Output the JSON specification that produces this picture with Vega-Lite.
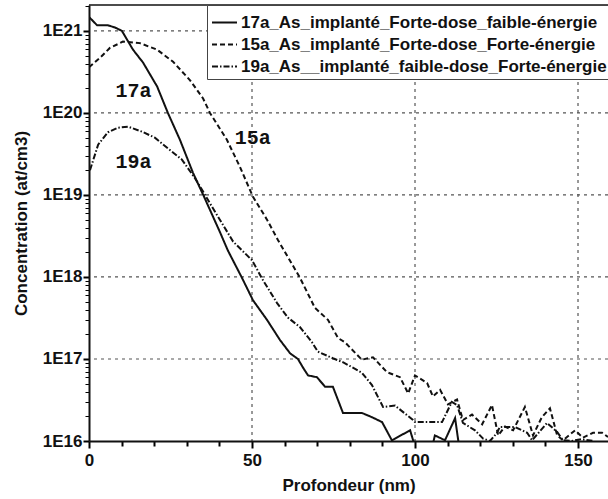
{
  "$schema": "https://vega.github.io/schema/vega-lite/v6.json",
  "width": 519,
  "height": 436,
  "autosize": {"type": "none"},
  "padding": {"left": 89, "top": 5, "right": 0, "bottom": 58},
  "config": {"view": {"stroke": null}},
  "resolve": {"axis": {"x": "independent", "y": "independent"}},
  "datasets": {
    "profiles": [
      {"s": "17a_As_implanté_Forte-dose_faible-énergie", "x": 0, "y": 1.48e21},
      {"s": "17a_As_implanté_Forte-dose_faible-énergie", "x": 2.5, "y": 1.17e21},
      {"s": "17a_As_implanté_Forte-dose_faible-énergie", "x": 5.8, "y": 1.17e21},
      {"s": "17a_As_implanté_Forte-dose_faible-énergie", "x": 8, "y": 1.1e21},
      {"s": "17a_As_implanté_Forte-dose_faible-énergie", "x": 10.1, "y": 1.0e21},
      {"s": "17a_As_implanté_Forte-dose_faible-énergie", "x": 13.5, "y": 5.9e20},
      {"s": "17a_As_implanté_Forte-dose_faible-énergie", "x": 16.6, "y": 4.1e20},
      {"s": "17a_As_implanté_Forte-dose_faible-énergie", "x": 20.9, "y": 2.1e20},
      {"s": "17a_As_implanté_Forte-dose_faible-énergie", "x": 24.2, "y": 1.0e20},
      {"s": "17a_As_implanté_Forte-dose_faible-énergie", "x": 27.9, "y": 4.7e19},
      {"s": "17a_As_implanté_Forte-dose_faible-énergie", "x": 31.9, "y": 1.86e19},
      {"s": "17a_As_implanté_Forte-dose_faible-énergie", "x": 35.3, "y": 9.5e18},
      {"s": "17a_As_implanté_Forte-dose_faible-énergie", "x": 40.2, "y": 3.5e18},
      {"s": "17a_As_implanté_Forte-dose_faible-énergie", "x": 42.6, "y": 2.1e18},
      {"s": "17a_As_implanté_Forte-dose_faible-énergie", "x": 46.9, "y": 9.8e17},
      {"s": "17a_As_implanté_Forte-dose_faible-énergie", "x": 50.3, "y": 5.2e17},
      {"s": "17a_As_implanté_Forte-dose_faible-énergie", "x": 54.6, "y": 3.0e17},
      {"s": "17a_As_implanté_Forte-dose_faible-énergie", "x": 58.6, "y": 1.7e17},
      {"s": "17a_As_implanté_Forte-dose_faible-énergie", "x": 61.7, "y": 1.17e17},
      {"s": "17a_As_implanté_Forte-dose_faible-énergie", "x": 64.1, "y": 1.0e17},
      {"s": "17a_As_implanté_Forte-dose_faible-énergie", "x": 65.6, "y": 7.9e16},
      {"s": "17a_As_implanté_Forte-dose_faible-énergie", "x": 67.2, "y": 6.3e16},
      {"s": "17a_As_implanté_Forte-dose_faible-énergie", "x": 69.9, "y": 6.0e16},
      {"s": "17a_As_implanté_Forte-dose_faible-énergie", "x": 72.4, "y": 4.6e16},
      {"s": "17a_As_implanté_Forte-dose_faible-énergie", "x": 74.8, "y": 4.6e16},
      {"s": "17a_As_implanté_Forte-dose_faible-énergie", "x": 77.9, "y": 2.2e16},
      {"s": "17a_As_implanté_Forte-dose_faible-énergie", "x": 80.1, "y": 2.2e16},
      {"s": "17a_As_implanté_Forte-dose_faible-énergie", "x": 83.7, "y": 2.2e16},
      {"s": "17a_As_implanté_Forte-dose_faible-énergie", "x": 86.8, "y": 1.95e16},
      {"s": "17a_As_implanté_Forte-dose_faible-énergie", "x": 89.9, "y": 1.7e16},
      {"s": "17a_As_implanté_Forte-dose_faible-énergie", "x": 92.9, "y": 1.02e16},
      {"s": "17a_As_implanté_Forte-dose_faible-énergie", "x": 98.5, "y": 1.35e16},
      {"s": "17a_As_implanté_Forte-dose_faible-énergie", "x": 101, "y": 6.3e15},
      {"s": "17a_As_implanté_Forte-dose_faible-énergie", "x": 104.5, "y": 6.3e15},
      {"s": "17a_As_implanté_Forte-dose_faible-énergie", "x": 106.1, "y": 1.17e16},
      {"s": "17a_As_implanté_Forte-dose_faible-énergie", "x": 109.2, "y": 1.02e16},
      {"s": "17a_As_implanté_Forte-dose_faible-énergie", "x": 112.3, "y": 1.9e16},
      {"s": "17a_As_implanté_Forte-dose_faible-énergie", "x": 114, "y": 6.3e15},
      {"s": "15a_As_implanté_Forte-dose_Forte-énergie", "x": 0, "y": 3.6e20},
      {"s": "15a_As_implanté_Forte-dose_Forte-énergie", "x": 3.4, "y": 4.7e20},
      {"s": "15a_As_implanté_Forte-dose_Forte-énergie", "x": 6.4, "y": 6.2e20},
      {"s": "15a_As_implanté_Forte-dose_Forte-énergie", "x": 10.4, "y": 7.4e20},
      {"s": "15a_As_implanté_Forte-dose_Forte-énergie", "x": 15.6, "y": 7.1e20},
      {"s": "15a_As_implanté_Forte-dose_Forte-énergie", "x": 20.9, "y": 5.9e20},
      {"s": "15a_As_implanté_Forte-dose_Forte-énergie", "x": 25.8, "y": 4.2e20},
      {"s": "15a_As_implanté_Forte-dose_Forte-énergie", "x": 31, "y": 2.5e20},
      {"s": "15a_As_implanté_Forte-dose_Forte-énergie", "x": 35, "y": 1.5e20},
      {"s": "15a_As_implanté_Forte-dose_Forte-énergie", "x": 37.1, "y": 1.0e20},
      {"s": "15a_As_implanté_Forte-dose_Forte-énergie", "x": 42.3, "y": 4.7e19},
      {"s": "15a_As_implanté_Forte-dose_Forte-énergie", "x": 46.3, "y": 2.2e19},
      {"s": "15a_As_implanté_Forte-dose_Forte-énergie", "x": 50.3, "y": 9.5e18},
      {"s": "15a_As_implanté_Forte-dose_Forte-énergie", "x": 54.6, "y": 5.0e18},
      {"s": "15a_As_implanté_Forte-dose_Forte-énergie", "x": 58, "y": 2.8e18},
      {"s": "15a_As_implanté_Forte-dose_Forte-énergie", "x": 64.7, "y": 9.8e17},
      {"s": "15a_As_implanté_Forte-dose_Forte-énergie", "x": 69.3, "y": 4.2e17},
      {"s": "15a_As_implanté_Forte-dose_Forte-énergie", "x": 73.3, "y": 3.0e17},
      {"s": "15a_As_implanté_Forte-dose_Forte-énergie", "x": 76.4, "y": 1.8e17},
      {"s": "15a_As_implanté_Forte-dose_Forte-énergie", "x": 78.5, "y": 1.6e17},
      {"s": "15a_As_implanté_Forte-dose_Forte-énergie", "x": 83.7, "y": 9.8e16},
      {"s": "15a_As_implanté_Forte-dose_Forte-énergie", "x": 87.1, "y": 1.05e17},
      {"s": "15a_As_implanté_Forte-dose_Forte-énergie", "x": 91.4, "y": 6.9e16},
      {"s": "15a_As_implanté_Forte-dose_Forte-énergie", "x": 95.4, "y": 6.0e16},
      {"s": "15a_As_implanté_Forte-dose_Forte-énergie", "x": 97.9, "y": 3.8e16},
      {"s": "15a_As_implanté_Forte-dose_Forte-énergie", "x": 100, "y": 6.3e16},
      {"s": "15a_As_implanté_Forte-dose_Forte-énergie", "x": 103.7, "y": 5.1e16},
      {"s": "15a_As_implanté_Forte-dose_Forte-énergie", "x": 105.5, "y": 3.5e16},
      {"s": "15a_As_implanté_Forte-dose_Forte-énergie", "x": 107.7, "y": 4.2e16},
      {"s": "15a_As_implanté_Forte-dose_Forte-énergie", "x": 110.1, "y": 2.8e16},
      {"s": "15a_As_implanté_Forte-dose_Forte-énergie", "x": 112.9, "y": 3.2e16},
      {"s": "15a_As_implanté_Forte-dose_Forte-énergie", "x": 114.7, "y": 1.8e16},
      {"s": "15a_As_implanté_Forte-dose_Forte-énergie", "x": 117.5, "y": 2.1e16},
      {"s": "15a_As_implanté_Forte-dose_Forte-énergie", "x": 120.6, "y": 1.6e16},
      {"s": "15a_As_implanté_Forte-dose_Forte-énergie", "x": 123.6, "y": 2.75e16},
      {"s": "15a_As_implanté_Forte-dose_Forte-énergie", "x": 125.5, "y": 1.17e16},
      {"s": "15a_As_implanté_Forte-dose_Forte-énergie", "x": 127.6, "y": 1.5e16},
      {"s": "15a_As_implanté_Forte-dose_Forte-énergie", "x": 130.1, "y": 1.35e16},
      {"s": "15a_As_implanté_Forte-dose_Forte-énergie", "x": 133.7, "y": 2.6e16},
      {"s": "15a_As_implanté_Forte-dose_Forte-énergie", "x": 136.2, "y": 1.17e16},
      {"s": "15a_As_implanté_Forte-dose_Forte-énergie", "x": 138.9, "y": 1.95e16},
      {"s": "15a_As_implanté_Forte-dose_Forte-énergie", "x": 141.4, "y": 2.5e16},
      {"s": "15a_As_implanté_Forte-dose_Forte-énergie", "x": 143.6, "y": 1.17e16},
      {"s": "15a_As_implanté_Forte-dose_Forte-énergie", "x": 145.4, "y": 1.02e16},
      {"s": "15a_As_implanté_Forte-dose_Forte-énergie", "x": 149.1, "y": 1.35e16},
      {"s": "15a_As_implanté_Forte-dose_Forte-énergie", "x": 151.5, "y": 1.1e16},
      {"s": "15a_As_implanté_Forte-dose_Forte-énergie", "x": 154.6, "y": 1.26e16},
      {"s": "15a_As_implanté_Forte-dose_Forte-énergie", "x": 157.4, "y": 1.26e16},
      {"s": "15a_As_implanté_Forte-dose_Forte-énergie", "x": 159.2, "y": 1.12e16},
      {"s": "19a_As__implanté_faible-dose_Forte-énergie", "x": 0.3, "y": 2.0e19},
      {"s": "19a_As__implanté_faible-dose_Forte-énergie", "x": 2.8, "y": 4.1e19},
      {"s": "19a_As__implanté_faible-dose_Forte-énergie", "x": 5.8, "y": 5.8e19},
      {"s": "19a_As__implanté_faible-dose_Forte-énergie", "x": 8.9, "y": 6.6e19},
      {"s": "19a_As__implanté_faible-dose_Forte-énergie", "x": 12, "y": 6.8e19},
      {"s": "19a_As__implanté_faible-dose_Forte-énergie", "x": 16.3, "y": 5.9e19},
      {"s": "19a_As__implanté_faible-dose_Forte-énergie", "x": 20.2, "y": 5.0e19},
      {"s": "19a_As__implanté_faible-dose_Forte-énergie", "x": 24.2, "y": 3.7e19},
      {"s": "19a_As__implanté_faible-dose_Forte-énergie", "x": 28.5, "y": 2.7e19},
      {"s": "19a_As__implanté_faible-dose_Forte-énergie", "x": 32.5, "y": 1.6e19},
      {"s": "19a_As__implanté_faible-dose_Forte-énergie", "x": 35, "y": 1.1e19},
      {"s": "19a_As__implanté_faible-dose_Forte-énergie", "x": 37.1, "y": 7.9e18},
      {"s": "19a_As__implanté_faible-dose_Forte-énergie", "x": 44.2, "y": 2.7e18},
      {"s": "19a_As__implanté_faible-dose_Forte-énergie", "x": 50, "y": 1.6e18},
      {"s": "19a_As__implanté_faible-dose_Forte-énergie", "x": 53.4, "y": 9.1e17},
      {"s": "19a_As__implanté_faible-dose_Forte-énergie", "x": 57.7, "y": 4.8e17},
      {"s": "19a_As__implanté_faible-dose_Forte-énergie", "x": 61, "y": 3.2e17},
      {"s": "19a_As__implanté_faible-dose_Forte-énergie", "x": 64.7, "y": 2.45e17},
      {"s": "19a_As__implanté_faible-dose_Forte-énergie", "x": 68.4, "y": 1.6e17},
      {"s": "19a_As__implanté_faible-dose_Forte-énergie", "x": 70.2, "y": 1.23e17},
      {"s": "19a_As__implanté_faible-dose_Forte-énergie", "x": 74.8, "y": 1.02e17},
      {"s": "19a_As__implanté_faible-dose_Forte-énergie", "x": 78, "y": 9.1e16},
      {"s": "19a_As__implanté_faible-dose_Forte-énergie", "x": 83.7, "y": 6.8e16},
      {"s": "19a_As__implanté_faible-dose_Forte-énergie", "x": 86.8, "y": 4.8e16},
      {"s": "19a_As__implanté_faible-dose_Forte-énergie", "x": 90.2, "y": 2.6e16},
      {"s": "19a_As__implanté_faible-dose_Forte-énergie", "x": 93.9, "y": 2.7e16},
      {"s": "19a_As__implanté_faible-dose_Forte-énergie", "x": 99.4, "y": 1.8e16},
      {"s": "19a_As__implanté_faible-dose_Forte-énergie", "x": 100, "y": 1.7e16},
      {"s": "19a_As__implanté_faible-dose_Forte-énergie", "x": 108.3, "y": 1.7e16},
      {"s": "19a_As__implanté_faible-dose_Forte-énergie", "x": 111.3, "y": 3.0e16},
      {"s": "19a_As__implanté_faible-dose_Forte-énergie", "x": 112.9, "y": 2.75e16},
      {"s": "19a_As__implanté_faible-dose_Forte-énergie", "x": 114.7, "y": 1.66e16},
      {"s": "19a_As__implanté_faible-dose_Forte-énergie", "x": 118.4, "y": 1.35e16},
      {"s": "19a_As__implanté_faible-dose_Forte-énergie", "x": 120.9, "y": 1.07e16},
      {"s": "19a_As__implanté_faible-dose_Forte-énergie", "x": 123, "y": 1.0e16},
      {"s": "19a_As__implanté_faible-dose_Forte-énergie", "x": 125.2, "y": 1.26e16},
      {"s": "19a_As__implanté_faible-dose_Forte-énergie", "x": 126, "y": 1.48e16},
      {"s": "19a_As__implanté_faible-dose_Forte-énergie", "x": 130.7, "y": 1.48e16},
      {"s": "19a_As__implanté_faible-dose_Forte-énergie", "x": 134.4, "y": 1.26e16},
      {"s": "19a_As__implanté_faible-dose_Forte-énergie", "x": 135.9, "y": 1.02e16},
      {"s": "19a_As__implanté_faible-dose_Forte-énergie", "x": 140.5, "y": 1.66e16},
      {"s": "19a_As__implanté_faible-dose_Forte-énergie", "x": 143.6, "y": 1.29e16},
      {"s": "19a_As__implanté_faible-dose_Forte-énergie", "x": 145.4, "y": 1.02e16},
      {"s": "19a_As__implanté_faible-dose_Forte-énergie", "x": 148, "y": 1.0e16},
      {"s": "19a_As__implanté_faible-dose_Forte-énergie", "x": 151, "y": 1.05e16},
      {"s": "19a_As__implanté_faible-dose_Forte-énergie", "x": 155, "y": 1.0e16}
    ],
    "labels": [
      {"x": 13.65, "y": 1.86e20, "t": "17a"},
      {"x": 50.2, "y": 5.0e19, "t": "15a"},
      {"x": 13.65, "y": 2.5e19, "t": "19a"}
    ],
    "gridx": [{"x": 50}, {"x": 100}, {"x": 150}],
    "gridy": [{"y": 1e17}, {"y": 1e18}, {"y": 1e19}, {"y": 1e20}, {"y": 1e21}],
    "frame": [{"y": 2.07e21}]
  },
  "layer": [
    {
      "data": {"name": "gridx"},
      "mark": {"type": "rule", "color": "#555", "strokeWidth": 1.2, "strokeDash": [3, 4]},
      "encoding": {
        "x": {
          "field": "x", "type": "quantitative",
          "scale": {"domain": [0, 159.2], "nice": false, "zero": false},
          "axis": {
            "orient": "bottom", "zindex": 1, "title": null, "labels": false, "domain": false, "grid": false, "ticks": true,
            "values": [10, 20, 30, 40, 60, 70, 80, 90, 110, 120, 130, 140],
            "tickSize": 5, "tickColor": "black", "tickWidth": 2
          }
        }
      }
    },
    {
      "data": {"name": "gridy"},
      "mark": {"type": "rule", "color": "#555", "strokeWidth": 1.2, "strokeDash": [3, 4]},
      "encoding": {
        "y": {
          "field": "y", "type": "quantitative",
          "scale": {"type": "log", "domain": [1e16, 2.07e21], "nice": false},
          "axis": {
            "orient": "left", "zindex": 1, "title": null, "labels": false, "domain": false, "grid": false, "ticks": true,
            "values": [2e16, 3e16, 4e16, 5e16, 6e16, 7e16, 8e16, 9e16,
                       2e17, 3e17, 4e17, 5e17, 6e17, 7e17, 8e17, 9e17,
                       2e18, 3e18, 4e18, 5e18, 6e18, 7e18, 8e18, 9e18,
                       2e19, 3e19, 4e19, 5e19, 6e19, 7e19, 8e19, 9e19,
                       2e20, 3e20, 4e20, 5e20, 6e20, 7e20, 8e20, 9e20,
                       2e21],
            "tickSize": 4, "tickColor": "black", "tickWidth": 1
          }
        }
      }
    },
    {
      "data": {"name": "profiles"},
      "mark": {"type": "line", "clip": true, "color": "#111"},
      "encoding": {
        "x": {
          "field": "x", "type": "quantitative",
          "axis": {
            "orient": "bottom", "zindex": 1,
            "title": "Profondeur (nm)",
            "titleFont": "Liberation Sans", "titleFontWeight": "bold", "titleFontSize": 17, "titleColor": "#111",
            "labelFont": "Liberation Sans", "labelFontWeight": "bold", "labelFontSize": 17, "labelColor": "#111",
            "grid": false, "ticks": true, "labelOverlap": false,
            "tickColor": "black", "tickWidth": 2, "tickSize": 7,
            "domainColor": "#111", "domainWidth": 2,
            "values": [0, 50, 100, 150],
            "labelPadding": 4,
            "titlePadding": 9,
            "labelFlush": false
          }
        },
        "y": {
          "field": "y", "type": "quantitative",
          "axis": {
            "orient": "left", "zindex": 1,
            "title": "Concentration (at/cm3)",
            "titleFont": "Liberation Sans", "titleFontWeight": "bold", "titleFontSize": 17, "titleColor": "#111",
            "labelFont": "Liberation Sans", "labelFontWeight": "bold", "labelFontSize": 17, "labelColor": "#111",
            "grid": false, "ticks": true, "labelOverlap": false,
            "tickColor": "black", "tickWidth": 2, "tickSize": 6,
            "domainColor": "#111", "domainWidth": 2,
            "values": [1e16, 1e17, 1e18, 1e19, 1e20, 1e21],
            "labelExpr": "'1E' + round(log(datum.value)/LN10)",
            "labelPadding": 1,
            "titlePadding": 12,
            "labelFlush": false
          }
        },
        "strokeDash": {
          "field": "s", "type": "nominal",
          "scale": {
            "domain": ["17a_As_implanté_Forte-dose_faible-énergie", "15a_As_implanté_Forte-dose_Forte-énergie", "19a_As__implanté_faible-dose_Forte-énergie"],
            "range": [[1, 0], [5, 3], [6, 2, 1.5, 2]]
          },
          "legend": {
            "title": null,
            "orient": "none", "legendX": 118, "legendY": 0,
            "symbolType": "stroke", "symbolSize": 625, "symbolStrokeWidth": 2, "symbolStrokeColor": "#111",
            "labelFont": "Liberation Sans", "labelFontWeight": "bold", "labelFontSize": 17, "labelColor": "#111",
            "labelLimit": 600, "labelOffset": 3,
            "padding": 4, "rowPadding": 0,
            "strokeColor": "#444", "fillColor": "white"
          }
        },
        "strokeWidth": {
          "field": "s", "type": "nominal",
          "scale": {
            "domain": ["17a_As_implanté_Forte-dose_faible-énergie", "15a_As_implanté_Forte-dose_Forte-énergie", "19a_As__implanté_faible-dose_Forte-énergie"],
            "range": [2, 2, 1.4]
          },
          "legend": null
        }
      }
    },
    {
      "data": {"name": "labels"},
      "mark": {"type": "text", "font": "Liberation Mono", "fontWeight": "bold", "fontSize": 20, "color": "#111", "align": "center", "baseline": "middle"},
      "encoding": {
        "x": {"field": "x", "type": "quantitative", "axis": null},
        "y": {"field": "y", "type": "quantitative", "axis": null},
        "text": {"field": "t", "type": "nominal"}
      }
    },
    {
      "data": {"name": "frame"},
      "mark": {"type": "rule", "color": "#111", "strokeWidth": 1.5},
      "encoding": {
        "y": {"field": "y", "type": "quantitative", "axis": null}
      }
    }
  ]
}
